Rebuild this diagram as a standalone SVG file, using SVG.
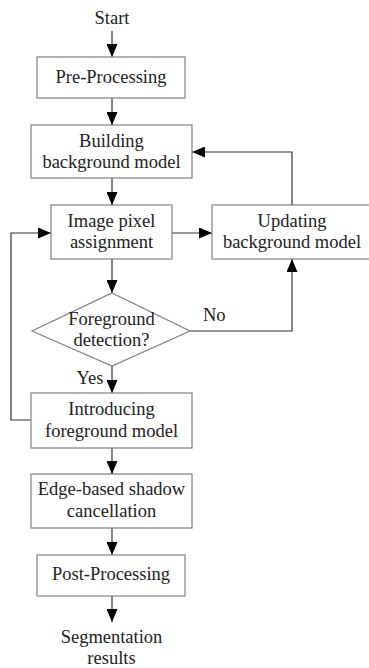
<svg xmlns="http://www.w3.org/2000/svg" width="369" height="668" viewBox="0 0 369 668">
<style>
.box{fill:#fff;stroke:#808080;stroke-width:1.2}
.t{font-family:'Liberation Serif','Times New Roman','DejaVu Serif',serif;font-size:18.5px;fill:#222;text-anchor:middle}
.c{fill:none;stroke:#333;stroke-width:1.2;marker-end:url(#ah)}
</style>
<defs>
<marker id="ah" markerUnits="userSpaceOnUse" markerWidth="13" markerHeight="11" refX="13" refY="5.5" orient="auto">
<path d="M0,0 L13,5.5 L0,11 z" fill="#000"/>
</marker>
</defs>
<rect width="369" height="668" fill="#fff"/>
<g id="connectors">
<line class="c" x1="112" y1="31" x2="112" y2="57"/>
<line class="c" x1="112" y1="98" x2="112" y2="125"/>
<line class="c" x1="112" y1="178" x2="112" y2="205"/>
<line class="c" x1="172" y1="233" x2="212" y2="233"/>
<polyline class="c" points="292,205 292,152 192,152"/>
<line class="c" x1="112" y1="259" x2="112" y2="293"/>
<polyline class="c" points="190,331 292,331 292,259"/>
<line class="c" x1="112" y1="366" x2="112" y2="393"/>
<polyline class="c" points="31,420 11,420 11,233 51,233"/>
<line class="c" x1="112" y1="448" x2="112" y2="474"/>
<line class="c" x1="112" y1="528" x2="112" y2="555"/>
<line class="c" x1="112" y1="596" x2="112" y2="622"/>
<text class="t" x="203" y="321" style="text-anchor:start">No</text>
<text class="t" x="90" y="384">Yes</text>
</g>
<g id="start"><text class="t" x="112" y="24">Start</text></g>
<g id="preprocessing"><rect class="box" x="37" y="57" width="148" height="41"/><text class="t" x="111" y="83">Pre-Processing</text></g>
<g id="building"><rect class="box" x="31" y="125" width="161" height="53"/><text class="t" x="111.5" y="147">Building</text><text class="t" x="111.5" y="168">background model</text></g>
<g id="image"><rect class="box" x="51" y="205" width="121" height="54"/><text class="t" x="111.5" y="227">Image pixel</text><text class="t" x="111.5" y="248">assignment</text></g>
<g id="updating"><rect class="box" x="212" y="205" width="160" height="54"/><text class="t" x="292" y="227">Updating</text><text class="t" x="292" y="248">background model</text></g>
<g id="detection"><polygon class="box" points="112,293 190,331 112,366 32,331"/><text class="t" x="111.5" y="325">Foreground</text><text class="t" x="111.5" y="346">detection?</text></g>
<g id="introducing"><rect class="box" x="31" y="393" width="161" height="55"/><text class="t" x="111.5" y="415">Introducing</text><text class="t" x="111.5" y="437">foreground model</text></g>
<g id="edge"><rect class="box" x="31" y="474" width="161" height="54"/><text class="t" x="111.5" y="495">Edge-based shadow</text><text class="t" x="111.5" y="517">cancellation</text></g>
<g id="postprocessing"><rect class="box" x="37" y="555" width="148" height="41"/><text class="t" x="111" y="580">Post-Processing</text></g>
<g id="segmentation"><text class="t" x="111.5" y="643">Segmentation</text><text class="t" x="111.5" y="664">results</text></g>
</svg>
